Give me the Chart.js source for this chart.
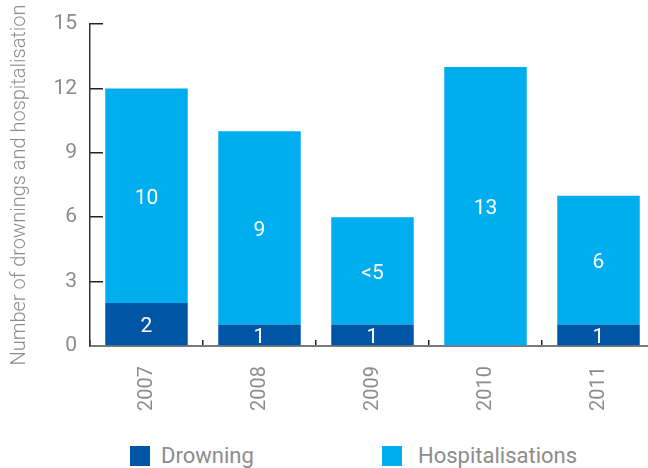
<!DOCTYPE html>
<html>
<head>
<meta charset="utf-8">
<script src="https://cdn.jsdelivr.net/npm/chart.js@4"></script>
<style>
  html, body { margin: 0; padding: 0; background: #fff; overflow: hidden; }
  .wrap { position: relative; width: 670px; height: 468px; }
  .chart-box { position: absolute; left: 0; top: 0; width: 670px; height: 430px; }
  .legend { position: absolute; top: 443px; left: 0; font-family: Roboto, "Liberation Sans", sans-serif; font-weight: 400; font-size: 22px; color: #8c8c8c; }
  .legend span.box { position: absolute; top: 3px; width: 20px; height: 20px; }
  .legend span.txt { position: absolute; top: 0; white-space: nowrap; line-height: 26px; }
</style>
</head>
<body>
<div class="wrap">
  <div class="chart-box"><canvas id="drownChart" width="670" height="430"></canvas></div>
  <div class="legend">
    <span class="box" style="left:130px;background:#0056a4"></span>
    <span class="txt" style="left:161px">Drowning</span>
    <span class="box" style="left:382px;background:#00adee"></span>
    <span class="txt" style="left:418px">Hospitalisations</span>
  </div>
</div>
<script>
const years = ['2007', '2008', '2009', '2010', '2011'];
const drowning = [2, 1, 1, 0, 1];
const hospitalisations = [10, 9, 5, 13, 6];
const hospLabels = ['10', '9', '<5', '13', '6'];
const drownLabels = ['2', '1', '1', '', '1'];
const yTicks = [0, 3, 6, 9, 12, 15];

const grey = '#8c8c8c';
const font = 'Roboto, "Liberation Sans", sans-serif';

// white numbers in the middle of each bar segment
const segmentLabels = {
  id: 'segmentLabels',
  afterDatasetsDraw(chart) {
    const ctx = chart.ctx;
    const textSets = [drownLabels, hospLabels];
    ctx.save();
    ctx.fillStyle = '#fff';
    ctx.font = '400 21px ' + font;
    ctx.textAlign = 'center';
    ctx.textBaseline = 'middle';
    chart.data.datasets.forEach((ds, i) => {
      chart.getDatasetMeta(i).data.forEach((bar, j) => {
        const txt = textSets[i][j];
        if (!txt || !ds.data[j]) return;
        const mid = (bar.y + bar.base) / 2;
        ctx.fillText(txt, bar.x, mid + 3);
      });
    });
    ctx.restore();
  }
};

new Chart(document.getElementById('drownChart'), {
  type: 'bar',
  data: {
    labels: years,
    datasets: [
      { label: 'Drowning', data: drowning, backgroundColor: '#0056a4', borderWidth: 0 },
      { label: 'Hospitalisations', data: hospitalisations, backgroundColor: '#00adee', borderWidth: 0 }
    ]
  },
  options: {
    responsive: false,
    animation: false,
    layout: { padding: { top: 24, right: 15, left: 0, bottom: 0 } },
    datasets: { bar: { barPercentage: 0.73, categoryPercentage: 1 } },
    plugins: { legend: { display: false }, tooltip: { enabled: false } },
    scales: {
      x: {
        stacked: true,
        border: { color: '#7a7a7a', width: 2 },
        grid: { drawOnChartArea: false, tickLength: -6, color: '#222', lineWidth: 1.5, offset: true },
        ticks: { color: grey, font: { family: font, size: 20 }, minRotation: 90, maxRotation: 90, padding: 26 },
        afterFit(scale) { scale.height = 84; }
      },
      y: {
        stacked: true,
        min: 0,
        max: 15,
        border: { color: '#333', width: 1.5 },
        grid: { drawOnChartArea: false, tickLength: -13, color: '#222', lineWidth: 1.5 },
        afterBuildTicks(scale) { scale.ticks = yTicks.map(v => ({ value: v })); },
        ticks: { color: grey, font: { family: font, size: 21 }, padding: 26 },
        title: {
          display: true,
          text: 'Number of drownings and hospitalisation',
          color: grey,
          font: { family: font, size: 20, weight: 300 },
          padding: { top: 8, bottom: 0 }
        },
        afterFit(scale) {
          scale.width = 90;
          // ticks sit inside the plot, so no extra room above/below is needed
          scale.paddingTop = 0;
          scale.paddingBottom = 0;
        }
      }
    }
  },
  plugins: [segmentLabels]
});
</script>
</body>
</html>
